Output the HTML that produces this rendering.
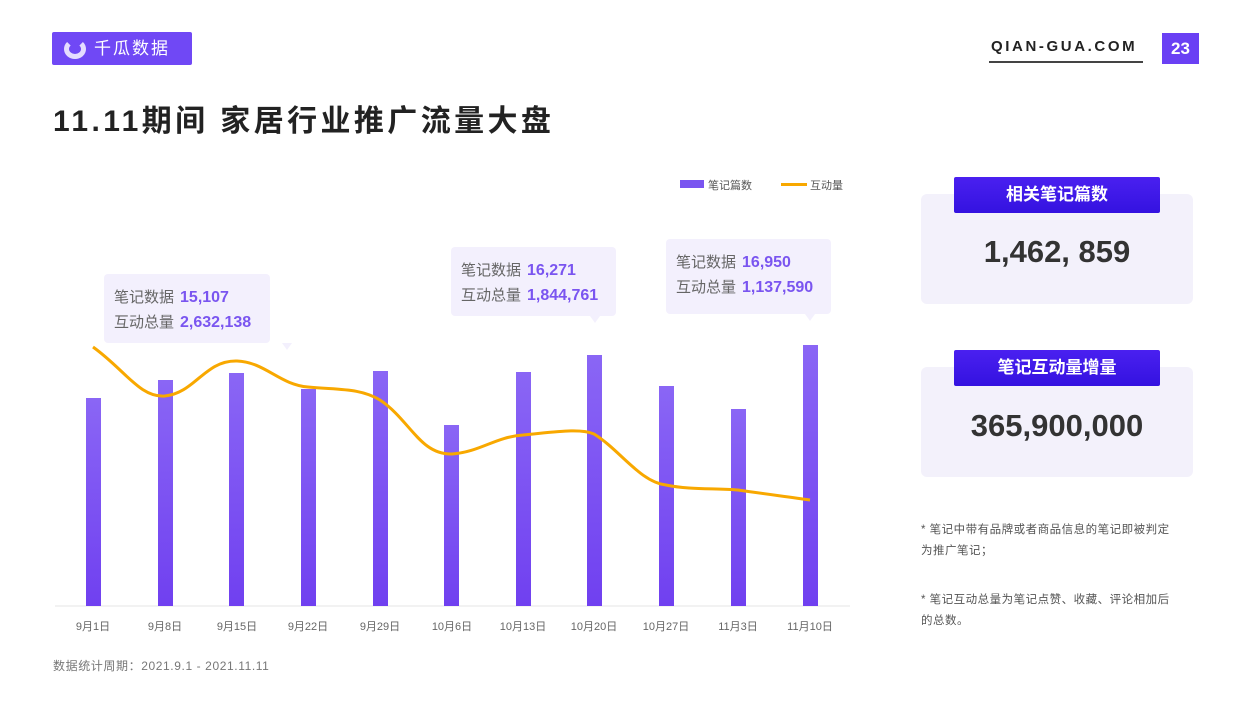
<!DOCTYPE html>
<html><head><meta charset="utf-8"><style>
*{margin:0;padding:0;box-sizing:border-box}
body{width:1250px;height:703px;background:#fff;position:relative;overflow:hidden;font-family:"Liberation Sans","Noto Sans CJK SC",sans-serif;color:#333}
.abs{position:absolute}
.tip{position:absolute;background:#f3f0fd;border-radius:4px;font-size:15px;color:#666;line-height:25px;padding:11px 10px}
.tip b{color:#7a55f0;font-size:16px;margin-left:6px}
.hdr{position:absolute;left:954px;width:206px;height:36px;background:linear-gradient(#4a20f0,#3412e0);color:#fff;font-size:17px;text-align:center;line-height:36px;border-radius:2px;font-weight:bold}
.card{position:absolute;left:921px;width:272px;height:110px;background:#f3f1fb;border-radius:6px;text-align:center;font-size:31px;font-weight:bold;color:#333}
.xl{position:absolute;top:618px;font-size:11px;color:#666;width:60px;text-align:center}
.note{position:absolute;left:921px;font-size:11.5px;color:#555;line-height:21px;width:256px;letter-spacing:0.5px}
</style></head><body>
<div class="abs" style="left:52px;top:32px;width:140px;height:33px;background:#7048f5;border-radius:2px;color:#fff;font-size:17px;line-height:33px;padding-left:42px;letter-spacing:2px">千瓜数据</div>
<div class="abs" style="left:64px;top:39px;width:22px;height:20px;border:5px solid #e5dcff;border-top-color:transparent;border-radius:50%"></div>
<div class="abs" style="left:991px;top:38px;font-size:15px;font-weight:bold;letter-spacing:2.6px;color:#222">QIAN-GUA.COM</div>
<div class="abs" style="left:989px;top:61px;width:154px;height:2px;background:#444"></div>
<div class="abs" style="left:1162px;top:33px;width:37px;height:31px;background:#6a40f4;color:#fff;font-weight:bold;font-size:17px;text-align:center;line-height:31px">23</div>
<div class="abs" style="left:53px;top:96px;font-size:30px;font-weight:bold;color:#222;letter-spacing:3.4px">11.11期间 家居行业推广流量大盘</div>

<div class="abs" style="left:680px;top:180px;width:24px;height:8px;background:#7a55f0"></div>
<div class="abs" style="left:708px;top:177px;font-size:11px;color:#555">笔记篇数</div>
<div class="abs" style="left:781px;top:183px;width:26px;height:3px;background:#f8a800"></div>
<div class="abs" style="left:810px;top:177px;font-size:11px;color:#555">互动量</div>

<svg class="abs" style="left:0;top:0" width="900" height="640">
<defs><linearGradient id="g" x1="0" y1="0" x2="0" y2="1"><stop offset="0" stop-color="#8a66f5"/><stop offset="1" stop-color="#7040f0"/></linearGradient></defs>
<line x1="55" y1="606" x2="850" y2="606" stroke="#e6e6e6"/>
<g fill="url(#g)">
<rect x="86" y="398" width="15" height="208"/><rect x="158" y="380" width="15" height="226"/><rect x="229" y="373" width="15" height="233"/><rect x="301" y="389" width="15" height="217"/><rect x="373" y="371" width="15" height="235"/><rect x="444" y="425" width="15" height="181"/><rect x="516" y="372" width="15" height="234"/><rect x="587" y="355" width="15" height="251"/><rect x="659" y="386" width="15" height="220"/><rect x="731" y="409" width="15" height="197"/><rect x="803" y="345" width="15" height="261"/>
</g>
<path d="M93,347 C125,370 140,398 165,396 C195,393 205,360 237,361 C265,362 280,385 308,387 C340,390 360,388 380,400 C410,420 420,455 452,454 C480,452 495,437 523,435 C555,432 580,428 594,434 C620,450 640,482 666,485 C690,490 715,488 738,490 C765,494 790,497 810,500" fill="none" stroke="#f8a800" stroke-width="3"/>
<polygon points="282,343 292,343 287,350" fill="#f3f0fd"/>
<polygon points="590,316 600,316 595,323" fill="#f3f0fd"/>
<polygon points="805,314 815,314 810,321" fill="#f3f0fd"/>
</svg>
<div class="tip" style="left:104px;top:274px;width:166px;height:69px">笔记数据<b>15,107</b><br>互动总量<b>2,632,138</b></div>
<div class="tip" style="left:451px;top:247px;width:165px;height:69px">笔记数据<b>16,271</b><br>互动总量<b>1,844,761</b></div>
<div class="tip" style="left:666px;top:239px;width:165px;height:75px">笔记数据<b>16,950</b><br>互动总量<b>1,137,590</b></div>

<div class="xl" style="left:63px">9月1日</div><div class="xl" style="left:135px">9月8日</div><div class="xl" style="left:207px">9月15日</div><div class="xl" style="left:278px">9月22日</div><div class="xl" style="left:350px">9月29日</div><div class="xl" style="left:422px">10月6日</div><div class="xl" style="left:493px">10月13日</div><div class="xl" style="left:564px">10月20日</div><div class="xl" style="left:636px">10月27日</div><div class="xl" style="left:708px">11月3日</div><div class="xl" style="left:780px">11月10日</div>
<div class="abs" style="left:53px;top:657px;font-size:12px;color:#777;letter-spacing:0.6px">数据统计周期：2021.9.1 - 2021.11.11</div>

<div class="card" style="top:194px;line-height:116px">1,462, 859</div>
<div class="hdr" style="top:177px">相关笔记篇数</div>
<div class="card" style="top:367px;line-height:118px">365,900,000</div>
<div class="hdr" style="top:350px">笔记互动量增量</div>
<div class="note" style="top:520px">* 笔记中带有品牌或者商品信息的笔记即被判定为推广笔记；</div>
<div class="note" style="top:590px">* 笔记互动总量为笔记点赞、收藏、评论相加后的总数。</div>
</body></html>
